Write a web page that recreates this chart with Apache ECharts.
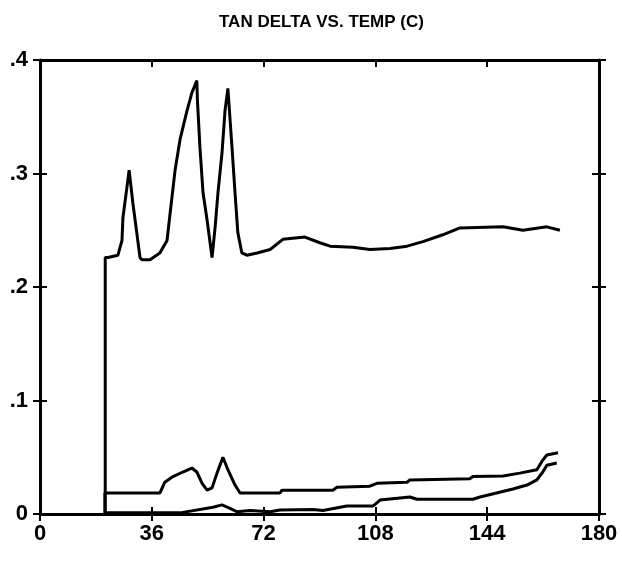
<!DOCTYPE html>
<html>
<head>
<meta charset="utf-8">
<script src="https://cdn.jsdelivr.net/npm/echarts@6/dist/echarts.min.js"></script>
<style>
html,body{margin:0;padding:0;background:#fff;}
#c{width:622px;height:561px;}
</style>
</head>
<body>
<div id="c"></div>
<script>
const titleText = 'TAN DELTA VS. TEMP (C)';
const xTicks = [0, 36, 72, 108, 144, 180];
const yTickLabels = {0: '0', 0.1: '.1', 0.2: '.2', 0.3: '.3', 0.4: '.4'};

const upperTemp = [21, 21, 21.9, 25.1, 26.4, 26.7, 28.0, 28.7, 29.9, 31.2, 32.2, 32.8, 35.4, 38.6, 40.9, 41.9, 43.5, 45.1, 47.3, 48.9, 50.5, 50.7, 51.5, 52.5, 53.8, 55.4, 56.4, 57.3, 58.6, 59.6, 60.5, 61.8, 62.8, 63.7, 65.0, 66.6, 69.9, 74.1, 78.2, 85.3, 90.1, 93.4, 100.8, 106.2, 112.7, 118.2, 123.3, 129.7, 135.2, 149.1, 155.5, 163.2, 167.4];
const upperTan = [0, 0.226, 0.226, 0.228, 0.241, 0.261, 0.288, 0.303, 0.274, 0.247, 0.226, 0.224, 0.224, 0.230, 0.241, 0.265, 0.303, 0.330, 0.355, 0.371, 0.382, 0.364, 0.323, 0.283, 0.259, 0.226, 0.253, 0.283, 0.318, 0.356, 0.375, 0.324, 0.283, 0.248, 0.230, 0.228, 0.230, 0.233, 0.242, 0.244, 0.239, 0.236, 0.235, 0.233, 0.234, 0.236, 0.240, 0.246, 0.252, 0.253, 0.250, 0.253, 0.250];

const middleTemp = [20.9, 20.9, 38.6, 40.2, 42.8, 46.0, 48.9, 50.5, 52.2, 53.8, 55.4, 57.0, 58.9, 60.5, 62.8, 64.4, 77.3, 77.9, 94.3, 95.6, 106.2, 108.5, 118.2, 119.1, 138.4, 139.4, 149.1, 154.5, 160.0, 161.9, 163.2, 166.8];
const middleTan = [0, 0.0185, 0.0185, 0.028, 0.033, 0.037, 0.0405, 0.037, 0.027, 0.021, 0.023, 0.036, 0.050, 0.039, 0.0255, 0.0185, 0.0185, 0.021, 0.021, 0.0235, 0.0245, 0.027, 0.028, 0.030, 0.031, 0.033, 0.0335, 0.036, 0.039, 0.0475, 0.052, 0.054];

const lowerTemp = [21, 45.1, 55.7, 58.6, 61.2, 63.4, 67.6, 74.1, 77.3, 87.9, 91.1, 98.8, 107.2, 109.5, 119.1, 121.4, 139.4, 141.7, 152.3, 156.8, 160.0, 161.9, 163.2, 166.4];
const lowerTan = [0.001, 0.001, 0.006, 0.008, 0.005, 0.002, 0.003, 0.002, 0.0035, 0.004, 0.003, 0.007, 0.007, 0.0123, 0.015, 0.013, 0.013, 0.015, 0.022, 0.0255, 0.030, 0.037, 0.043, 0.045];

function pairs(xs, ys) { return xs.map((x, i) => [x, ys[i]]); }

const FONT = '"Liberation Sans", Arial, sans-serif';
const axisLine = {show: true, onZero: false, lineStyle: {color: '#000', width: 3}};
const noLine = {show: false, onZero: false};
const tickStyle = {color: '#000', width: 2};

function xAxisDef(pos, showLabel, inside, showLine) {
  return {
    type: 'value', min: 0, max: 180, interval: 36, position: pos,
    axisLine: showLine ? axisLine : noLine,
    axisTick: {show: true, inside: inside, length: 7, lineStyle: tickStyle},
    axisLabel: {show: showLabel, color: '#000', fontFamily: FONT, fontWeight: 'bold', fontSize: 22, margin: 9},
    splitLine: {show: false}
  };
}
function yAxisDef(pos, showLabel, inside, showLine) {
  return {
    type: 'value', min: 0, max: 0.4, interval: 0.1, position: pos,
    axisLine: showLine ? axisLine : noLine,
    axisTick: {show: true, inside: inside, length: 7, lineStyle: tickStyle},
    axisLabel: {show: showLabel, color: '#000', fontFamily: FONT, fontWeight: 'bold', fontSize: 22, margin: 12,
      formatter: v => yTickLabels[Math.round(v * 10) / 10] ?? ''},
    splitLine: {show: false}
  };
}

const lineStyle = {color: '#000', width: 3};
function series(data) {
  return {type: 'line', data: data, showSymbol: false, symbol: 'none', lineStyle: lineStyle, xAxisIndex: 0, yAxisIndex: 0, animation: false};
}

const chart = echarts.init(document.getElementById('c'), null, {renderer: 'canvas'});
chart.setOption({
  animation: false,
  backgroundColor: '#fff',
  title: {text: titleText, left: 214, top: 9, textStyle: {fontFamily: FONT, fontWeight: 'bold', fontSize: 17, color: '#000'}},
  grid: {left: 40, right: 23, top: 60, bottom: 47, containLabel: false},
  xAxis: [
    xAxisDef('bottom', true, false, true),
    xAxisDef('bottom', false, true, false),
    xAxisDef('top', false, true, true)
  ],
  yAxis: [
    yAxisDef('left', true, false, true),
    yAxisDef('left', false, true, false),
    yAxisDef('right', false, false, true),
    yAxisDef('right', false, true, false)
  ],
  series: [
    series(pairs(upperTemp, upperTan)),
    series(pairs(middleTemp, middleTan)),
    series(pairs(lowerTemp, lowerTan))
  ]
});
</script>
</body>
</html>
